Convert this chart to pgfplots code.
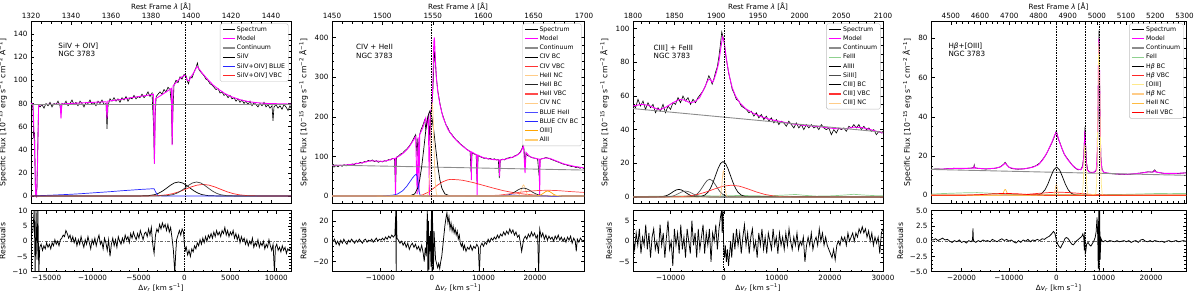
\documentclass[border=0pt]{standalone}
\usepackage{fontspec}
\setmainfont{DejaVu Sans}
\usepackage{pgfplots}
\pgfplotsset{compat=1.18}
\definecolor{mag}{HTML}{FF00FF}
\definecolor{peach}{HTML}{FFCC88}
\definecolor{orng}{HTML}{FFA500}
\definecolor{lgreen}{HTML}{8FD18F}
\definecolor{pyel}{HTML}{FFE98A}
\definecolor{cgray}{HTML}{8C8C8C}
\newcommand{\tk}{\fontsize{7.2}{8.2}\selectfont}
\newcommand{\yl}{\fontsize{7.7}{8.7}\selectfont}
\newcommand{\lgf}{\fontsize{6.2}{7.2}\selectfont}
\pgfplotsset{
 base/.style={scale only axis, tick align=inside, major tick length=3.5pt, minor tick length=2pt,
   tick style={black,line width=0.5pt}, axis line style={line width=0.7pt},
   tick label style={font=\tk}, label style={font=\tk}, ylabel style={font=\yl},
   xtick pos=both, ytick pos=both, scaled ticks=false, legend cell align=left,
   legend image code/.code={\draw[#1, line width=1.2pt] (0pt,0pt) -- (12.5pt,0pt);},
   legend style={font=\lgf, at={(0.99,0.99)}, anchor=north east, draw=black!25, rounded corners=1.5pt,
     inner xsep=2pt, inner ysep=1.5pt, row sep=0.4pt,
     nodes={inner sep=1.1pt, text height=5pt, text depth=1.6pt}}},
 mainax/.style={base, xticklabel pos=right, height=181.6pt,
   xlabel={Rest Frame \textit{λ} [Å]},
   xlabel style={at={(axis description cs:0.5,1)}, anchor=center, yshift=15pt},
   ylabel={Specific Flux [10\textsuperscript{−15} erg s\textsuperscript{−1} cm\textsuperscript{−2} Å\textsuperscript{−1}]}},
 resax/.style={base, xticklabel pos=left, height=61pt,
   xlabel={Δ\textit{v}\textsubscript{\textit{r}} [km s\textsuperscript{−1}]},
   xlabel style={at={(axis description cs:0.5,0)}, anchor=center, yshift=-15.6pt},
   ylabel={Residuals}},
 spec/.style={black, line width=0.6pt},
 rspec/.style={black, line width=0.75pt},
 model/.style={mag, line width=0.9pt},
 cont/.style={cgray, line width=0.9pt},
 comp/.style={line width=0.7pt},
 vl/.style={black, line width=0.6pt, dash pattern=on 1.6pt off 1pt, forget plot},
 zl/.style={black!60, line width=0.5pt, dash pattern=on 3pt off 1.5pt on 0.8pt off 1.5pt, forget plot},
}
\begin{document}
\begin{tikzpicture}
\useasboundingbox (0,0) rectangle (1200pt,296pt);
%================ PANEL 1 =================
\begin{axis}[mainax, at={(31pt,92.7pt)}, anchor=south west, width=260pt,
 xmin=1320, xmax=1450, ymin=-6.3, ymax=150.7,
 xtick={1320,1340,...,1440}, xticklabels={1320,1340,1360,1380,1400,1420,1440},
 ytick={0,20,...,140}, yticklabels={0,20,40,60,80,100,120,140},
 minor x tick num=3, minor y tick num=3]
\addplot[spec] coordinates {(1320,82)(1320.5,79)(1321,76)(1321.3,50)(1321.8,55)(1322.2,3)(1322.6,0)(1323,8)(1323.4,45)(1323.8,78)(1324.5,77)(1325.5,79)(1326.5,76)(1327.5,80)(1328.5,78)(1329.5,81)(1330.5,77)(1331.5,80)(1332.5,79)(1333.5,82)(1334.5,78)(1335,72)(1335.5,80)(1336.5,79)(1337.5,82)(1338.5,78)(1339.5,80)(1340.5,83)(1341.5,79)(1342.5,81)(1343.5,78)(1344.5,82)(1345.5,80)(1346.5,77)(1347.5,81)(1348.5,80)(1349.5,83)(1350.5,79)(1351.5,81)(1352.5,78)(1353.5,82)(1354.5,80)(1355.5,83)(1356.5,79)(1357.5,80)(1358,58)(1358.5,78)(1359.5,84)(1360.5,82)(1361.5,85)(1362.5,82)(1363.5,84)(1364.5,81)(1365.5,85)(1366.5,83)(1367.5,86)(1368.5,82)(1369.5,85)(1370.5,84)(1371.5,87)(1372.5,84)(1373.5,86)(1374.5,85)(1375.5,88)(1376.5,85)(1377.5,87)(1378.5,90)(1379.5,86)(1380.5,89)(1381.3,60)(1381.7,28)(1382.1,70)(1382.6,86)(1383.5,88)(1384.5,90)(1385.5,88)(1386.5,92)(1387.5,90)(1388.5,94)(1389.5,92)(1390.2,80)(1390.6,45)(1391,75)(1391.5,96)(1392.5,100)(1393.5,98)(1394.5,103)(1395.5,101)(1396.5,105)(1397.5,104)(1398.2,99)(1398.8,97)(1399.5,103)(1400.5,102)(1401.5,107)(1402.5,111)(1403.2,115)(1403.8,110)(1404.5,108)(1405.5,106)(1406.5,104)(1407.5,101)(1408.5,100)(1409.5,97)(1410.5,96)(1411.5,94)(1412.5,92)(1413.5,93)(1414.5,89)(1415.5,90)(1416.5,87)(1417.5,88)(1418.5,85)(1419.5,87)(1420.5,84)(1421.5,85)(1422.5,82)(1423.5,84)(1424.5,81)(1425.5,83)(1426.5,80)(1427.5,82)(1428.5,79)(1429.5,82)(1430.5,78)(1431.5,81)(1432.5,79)(1433.5,77)(1434.5,80)(1435.5,78)(1436.5,81)(1437.5,77)(1438.5,79)(1439.5,76)(1440.5,78)(1441,65)(1441.5,77)(1442.5,79)(1443.5,76)(1444.5,78)(1445.5,75)(1446.5,79)(1447.5,77)(1448.5,74)(1449.5,78)(1450,76)};
\addlegendentry{Spectrum}
\addplot[model] coordinates {(1320,80)(1321,79.5)(1321.8,40)(1322.3,2)(1322.8,0)(1323.3,30)(1323.8,78)(1325,79)(1334.6,79.5)(1335,67)(1335.4,79.6)(1345,80.5)(1357.6,81.5)(1358,67)(1358.4,82)(1365,83.5)(1372,85.5)(1378,87)(1381.2,88)(1381.7,28)(1382.2,84)(1385,87)(1388,90.5)(1390.2,93)(1390.6,44)(1391,95)(1393,99)(1395,102.5)(1397,104.5)(1398.3,100)(1399,99.5)(1400,103)(1401.5,107)(1403,112)(1404,110)(1405.5,106.5)(1408,101.5)(1411,96)(1414,92)(1417,88.5)(1420,86)(1424,83.5)(1428,81.8)(1432,80.8)(1438,80)(1450,79.5)};
\addlegendentry{Model}
\addplot[cont] coordinates {(1320,79.5)(1450,79.5)};
\addlegendentry{Continuum}
\addplot[comp, black] coordinates {(1320,0)(1373.7,0.02)(1378.7,0.29)(1381.7,1.12)(1383.7,2.32)(1385.7,4.2)(1387.7,6.67)(1389.7,9.29)(1391.7,11.33)(1393.7,12.1)(1395.7,11.33)(1397.7,9.29)(1399.7,6.67)(1401.7,4.2)(1403.7,2.32)(1405.7,1.12)(1408.7,0.29)(1413.7,0.02)(1450,0)};
\addlegendentry{SiIV}
\addplot[comp, blue!85] coordinates {(1320,0)(1324,0.3)(1330,0.7)(1335,1.1)(1340,1.5)(1345,2)(1350,2.6)(1355,3.2)(1360,3.8)(1365,4.5)(1370,5.1)(1375,5.7)(1380,6.2)(1381.5,6.3)(1382.5,3)(1383.5,0.3)(1386,0)(1450,0)};
\addlegendentry{SiIV+OIV] BLUE}
\addplot[comp, red!85] coordinates {(1320,0)(1378,0.04)(1384,0.35)(1388,1.06)(1391,2.11)(1394,3.69)(1397,5.71)(1400,7.79)(1403,9.4)(1406,10)(1409,9.4)(1412,7.79)(1415,5.71)(1418,3.69)(1421,2.11)(1424,1.06)(1428,0.35)(1434,0.04)(1450,0)};
\addlegendentry{SiIV+OIV] VBC}
\addplot[comp, black!75, forget plot] coordinates {(1320,0)(1382.8,0.02)(1387.8,0.29)(1390.8,1.12)(1392.8,2.32)(1394.8,4.2)(1396.8,6.67)(1398.8,9.29)(1400.8,11.33)(1402.8,12.1)(1404.8,11.33)(1406.8,9.29)(1408.8,6.67)(1410.8,4.2)(1412.8,2.32)(1414.8,1.12)(1417.8,0.29)(1422.8,0.02)(1450,0)};
\addplot[vl] coordinates {(1397,-10)(1397,160)};
\node[font=\tk, align=left, anchor=north west, inner sep=0pt] at (axis description cs:0.105,0.885) {SiIV + OIV]\\NGC 3783};
\end{axis}
\begin{axis}[resax, at={(31pt,24.3pt)}, anchor=south west, width=260pt,
 xmin=-16700, xmax=11600, ymin=-10, ymax=10,
 xtick={-15000,-10000,...,10000}, xticklabels={−15000,−10000,−5000,0,5000,10000},
 ytick={-10,-5,...,10}, yticklabels={−10,−5,0,5,10},
 minor x tick num=4, minor y tick num=4]
\addplot[zl] coordinates {(-16700,0)(11600,0)};
\addplot[rspec] coordinates {(-16500,3)(-16350,10.5)(-16250,-10.5)(-16150,10.5)(-16050,-6)(-15950,10.5)(-15850,-10.5)(-15750,-2)(-15600,-1)(-15450,-3)(-15300,-1.5)(-15150,-2.5)(-15000,-0.5)(-14850,-2)(-14700,-1)(-14550,-2.5)(-14400,-0.5)(-14250,-1.5)(-14100,0.5)(-13950,-1)(-13800,0)(-13650,-1.5)(-13500,0.5)(-13350,1)(-13200,2)(-13050,1.5)(-12900,3.5)(-12750,2.5)(-12600,1)(-12450,2)(-12300,0)(-12150,1.5)(-12000,-0.5)(-11850,1)(-11700,-1.5)(-11550,0.5)(-11400,-1)(-11250,1.5)(-11100,-0.5)(-10950,-2)(-10800,0.5)(-10650,-1)(-10500,1.5)(-10350,-0.5)(-10200,-2.5)(-10050,0.5)(-9900,-1)(-9750,1)(-9600,-1.5)(-9450,0.5)(-9300,2)(-9150,-1)(-9000,0)(-8850,-2.5)(-8700,1)(-8550,-0.5)(-8400,-3)(-8250,0.5)(-8100,-5)(-7950,-1)(-7800,1)(-7650,-1.5)(-7500,0.5)(-7350,-2)(-7200,1.5)(-7050,0)(-6900,-1)(-6750,1)(-6600,-0.5)(-6450,2)(-6300,0.5)(-6150,1.5)(-6000,-0.5)(-5850,2.5)(-5700,1)(-5550,3)(-5400,1.5)(-5250,0.5)(-5100,2.5)(-4950,1)(-4800,3.5)(-4650,2)(-4500,0.5)(-4350,2.5)(-4200,3)(-4050,1.5)(-3900,4)(-3750,2)(-3600,4.5)(-3450,-1)(-3300,-4)(-3150,2)(-3000,4)(-2850,3)(-2700,5.5)(-2550,4)(-2400,6)(-2250,4.5)(-2100,5.5)(-1950,3.5)(-1800,5.5)(-1650,3)(-1500,4.5)(-1350,1)(-1200,-3)(-1050,-10.5)(-950,-4)(-850,0.5)(-700,2)(-550,3.5)(-400,2)(-250,4)(-100,3)(0,-1)(100,-3)(200,-2)(350,-4.5)(500,-3)(650,-5)(800,-2.5)(950,-3.5)(1100,-1.5)(1250,-2.5)(1400,-0.5)(1550,-1.5)(1700,0.5)(1850,-1)(2000,1)(2150,-0.5)(2300,1.5)(2450,0)(2600,2)(2750,1)(2900,2.5)(3050,1)(3200,3)(3350,1.5)(3500,3.5)(3650,2)(3800,3)(3950,1.5)(4100,3.5)(4250,2.5)(4400,4.5)(4550,2)(4700,3.5)(4850,1.5)(5000,3)(5150,2)(5300,3.5)(5450,1)(5600,2.5)(5750,0.5)(5900,2)(6050,-0.5)(6200,1.5)(6350,0)(6500,1)(6650,-1)(6800,0.5)(6950,-1.5)(7100,0)(7250,-1)(7400,1)(7550,-2)(7700,-0.5)(7850,-1.5)(8000,0.5)(8150,-2)(8300,-0.5)(8450,-1.5)(8600,0)(8750,-2.5)(8900,-1)(9050,-2)(9200,0.5)(9350,-1.5)(9500,-3)(9650,-1)(9800,-10.5)(9900,-2)(10050,-1)(10200,-3)(10350,-2)(10500,-3.5)(10650,-1.5)(10800,-3)(10950,-2)(11100,-4)(11250,-2.5)(11370,-3)(11600,-2)};
\addplot[vl] coordinates {(0,-12)(0,12)};
\end{axis}
%================ PANEL 2 =================
\begin{axis}[mainax, at={(332pt,92.7pt)}, anchor=south west, width=252pt,
 xmin=1450, xmax=1700, ymin=-18.4, ymax=440,
 xtick={1450,1500,...,1700}, xticklabels={1450,1500,1550,1600,1650,1700},
 ytick={0,100,...,400}, yticklabels={0,100,200,300,400},
 minor x tick num=4, minor y tick num=4]
\addplot[spec] coordinates {(1450,76)(1452,73)(1454,77)(1456,74)(1458,78)(1460,75)(1462,79)(1464,76)(1466,80)(1468,77)(1470,81)(1472,79)(1474,83)(1476,82)(1478,85)(1480,83)(1482,87)(1484,86)(1486,90)(1488,88)(1490,91)(1492,87)(1494,89)(1496,85)(1498,88)(1500,86)(1502,89)(1504,88)(1506,92)(1508,91)(1510,95)(1512,94)(1513,20)(1514,98)(1516,101)(1518,106)(1520,108)(1522,114)(1524,118)(1526,124)(1528,131)(1530,140)(1532,150)(1533,155)(1534.5,100)(1535,145)(1536,110)(1537,155)(1538,165)(1540,178)(1542,192)(1543,170)(1544,185)(1546,205)(1547,140)(1548,210)(1549,225)(1550,260)(1551,330)(1551.7,365)(1552.5,340)(1553.5,300)(1555,265)(1557,235)(1559,210)(1561,195)(1563,180)(1565,172)(1567,160)(1569,155)(1571,148)(1573,142)(1575,138)(1577,132)(1579,128)(1581,124)(1583,119)(1585,116)(1587,112)(1588,60)(1589,110)(1591,106)(1593,104)(1594,30)(1595,103)(1597,99)(1599,97)(1601,95)(1603,96)(1605,93)(1607,95)(1609,92)(1611,94)(1613,91)(1615,92)(1616,45)(1617,90)(1619,93)(1621,91)(1623,95)(1625,96)(1627,98)(1629,97)(1631,101)(1633,103)(1635,106)(1637,112)(1638.5,120)(1639.5,128)(1640.5,118)(1641.5,80)(1642.5,108)(1644,102)(1646,100)(1648,97)(1650,96)(1652,95)(1654,93)(1655.5,50)(1656.5,92)(1658,94)(1660,95)(1662,97)(1664,96)(1666,94)(1668,92)(1670,90)(1672,88)(1674,86)(1676,84)(1678,82)(1680,80)(1682,79)(1684,77)(1686,76)(1688,74)(1690,74)(1692,72)(1694,73)(1696,70)(1698,72)(1700,69)};
\addlegendentry{Spectrum}
\addplot[model] coordinates {(1450,77)(1460,77.5)(1470,80)(1480,84)(1488,89)(1495,88)(1500,87.5)(1505,89.5)(1510,94)(1512.5,95)(1513,1)(1513.5,96)(1518,103)(1522,111)(1526,122)(1530,138)(1533,150)(1534.5,5)(1535.5,148)(1536.3,10)(1537,155)(1540,172)(1542,190)(1543,197)(1544,180)(1545.5,200)(1546.7,0)(1547.5,210)(1549,225)(1550,280)(1551,390)(1551.6,400)(1552.3,360)(1553.5,300)(1555,262)(1557,232)(1560,200)(1565,168)(1570,150)(1575,136)(1580,125)(1585,115)(1587.8,112)(1588.2,40)(1588.6,111)(1593.5,104)(1594,0)(1594.5,103)(1600,97)(1605,94)(1610,92)(1615.8,91)(1616.3,50)(1616.8,91)(1622,93)(1628,97)(1633,102)(1637,110)(1640,126)(1641.5,58)(1642.5,110)(1646,100)(1650,96)(1655.5,93)(1656,0)(1656.5,93)(1662,96)(1666,95)(1672,89)(1680,81)(1690,75)(1700,71)};
\addlegendentry{Model}
\addplot[cont] coordinates {(1450,78)(1550,73)(1700,65.5)};
\addlegendentry{Continuum}
\addplot[comp, black] coordinates {(1450,0)(1527,0.3)(1532,5.2)(1535,19.8)(1537,40.9)(1539,74.3)(1541,118.1)(1543,164.4)(1545,200.3)(1547,214)(1549,200.3)(1551,164.4)(1553,118.1)(1555,74.3)(1557,40.9)(1559,19.8)(1562,5.2)(1567,0.3)(1700,0)};
\addlegendentry{CIV BC}
\addplot[comp, red!80] coordinates {(1450,0)(1535,0.5)(1540,3)(1545,9)(1550,18)(1555,28)(1560,36)(1565,41)(1568,42)(1575,41)(1580,39.5)(1590,34)(1600,27)(1610,20)(1620,13.5)(1630,8.5)(1640,5)(1650,2.6)(1660,1.2)(1670,0.5)(1680,0.2)(1700,0)};
\addlegendentry{CIV VBC}
\addplot[comp, peach] coordinates {(1450,0)(1632,0)(1634,0.3)(1636,3.8)(1637,9.1)(1638,17)(1639,24.7)(1640,28)(1641,24.7)(1642,17)(1643,9.1)(1644,3.8)(1646,0.3)(1648,0)(1700,0)};
\addlegendentry{HeII NC}
\addplot[comp, black!85] coordinates {(1450,0)(1614,0.05)(1620,0.6)(1625,2.7)(1628,5.6)(1631,9.7)(1634,14.5)(1637,18.5)(1640,20)(1643,18.5)(1646,14.5)(1649,9.7)(1652,5.6)(1655,2.7)(1660,0.6)(1666,0.05)(1700,0)};
\addlegendentry{HeII BC}
\addplot[comp, red!70] coordinates {(1450,0)(1600,0.5)(1615,2)(1625,5)(1635,9)(1645,12)(1655,14)(1665,14.5)(1675,13.5)(1685,11.5)(1700,9)};
\addlegendentry{HeII VBC}
\addplot[comp, peach] coordinates {(1450,0)(1543.5,0)(1544.5,0.9)(1545.5,6.7)(1546.5,31.8)(1547.5,96.6)(1548,143)(1548.5,188)(1549,222)(1549.5,235)(1550,222)(1550.5,188)(1551,143)(1551.5,96.6)(1552.5,31.8)(1553.5,6.7)(1554.5,0.9)(1555.5,0)(1700,0)};
\addlegendentry{CIV NC}
\addplot[comp, blue!70] coordinates {(1450,0)(1615,0)(1620,0.8)(1624,2.2)(1628,3)(1632,2.2)(1636,0.8)(1641,0)(1700,0)};
\addlegendentry{BLUE HeII}
\addplot[comp, blue!85] coordinates {(1450,0)(1500,0.3)(1510,2)(1515,5)(1520,13)(1524,24)(1527,35)(1530,46)(1532,52)(1533.5,55)(1534.5,50)(1535.5,30)(1536.5,10)(1537.5,1)(1540,0)(1700,0)};
\addlegendentry{BLUE CIV BC}
\addplot[comp, orng] coordinates {(1450,0)(1651,0)(1654,0.55)(1656,1.7)(1658,4.1)(1660,7.6)(1662,11.1)(1664,12.6)(1666,11.1)(1668,7.6)(1670,4.1)(1672,1.7)(1674,0.55)(1677,0)(1700,0)};
\addlegendentry{OIII]}
\addplot[comp, orng!55] coordinates {(1450,0)(1662,0)(1666,0.6)(1669,1.6)(1671,2)(1673,1.6)(1676,0.6)(1680,0)(1700,0)};
\addlegendentry{AlII}
\addplot[vl] coordinates {(1549,-30)(1549,450)};
\node[font=\tk, align=left, anchor=north west, inner sep=0pt] at (axis description cs:0.095,0.875) {CIV + HeII\\NGC 3783};
\end{axis}
\begin{axis}[resax, at={(332pt,24.3pt)}, anchor=south west, width=252pt,
 xmin=-19400, xmax=29500, ymin=-30, ymax=30,
 xtick={-10000,0,10000,20000}, xticklabels={−10000,0,10000,20000},
 ytick={-20,0,20}, yticklabels={−20,0,20},
 minor x tick num=4, minor y tick num=3]
\addplot[zl] coordinates {(-19400,0)(29500,0)};
\addplot[rspec] coordinates {(-19400,-1)(-18900,2)(-18600,-3)(-18300,0)(-18000,-4)(-17700,1)(-17400,-2)(-17100,2)(-16800,-1)(-16500,-3)(-16200,1)(-15900,-1)(-15600,2)(-15300,0)(-15000,-2)(-14700,1)(-14400,-1)(-14100,2)(-13800,0)(-13500,-2)(-13200,1)(-12900,2)(-12600,-1)(-12300,1)(-12000,0)(-11700,2)(-11400,-1)(-11100,1)(-10800,3)(-10500,0)(-10200,2)(-9900,1)(-9600,3)(-9300,1)(-9000,4)(-8700,2)(-8400,5)(-8100,3)(-7800,6)(-7500,4)(-7200,6)(-7000,31)(-6950,-31)(-6900,31)(-6800,3)(-6500,1)(-6200,-2)(-5900,0)(-5600,-4)(-5300,-1)(-5000,-6)(-4700,-2)(-4400,-8)(-4100,-4)(-3800,-2)(-3500,-6)(-3200,-3)(-2900,-8)(-2600,-5)(-2300,-10)(-2000,-4)(-1700,-12)(-1500,-20)(-1300,-6)(-1100,-15)(-900,31)(-800,-31)(-700,20)(-600,-28)(-500,5)(-400,-10)(-300,10)(-200,-25)(-100,31)(0,-31)(100,31)(200,-20)(300,-28)(400,10)(500,0)(700,-18)(900,-22)(1100,-26)(1300,-22)(1500,-27)(1700,-20)(1900,-15)(2100,-5)(2300,5)(2500,15)(2700,22)(2900,28)(3100,18)(3300,24)(3500,12)(3700,18)(3900,10)(4100,15)(4300,8)(4500,12)(4700,6)(4900,10)(5100,2)(5300,6)(5500,-2)(5700,-5)(5900,-2)(6100,-8)(6300,-4)(6600,-10)(6900,-6)(7200,-8)(7500,-4)(7800,-9)(8100,-5)(8400,-7)(8700,-3)(9000,-6)(9200,-31)(9400,-5)(9700,-2)(10000,-5)(10300,-1)(10600,-3)(10900,2)(11200,-1)(11500,3)(11800,1)(12100,4)(12400,2)(12700,6)(13000,3)(13300,7)(13600,5)(13900,9)(14200,6)(14500,10)(14800,7)(15100,12)(15400,8)(15700,11)(16000,6)(16300,9)(16600,4)(16900,6)(17200,-3)(17400,-10)(17600,-4)(17800,2)(18100,5)(18400,2)(18700,7)(19000,4)(19300,9)(19600,5)(19900,8)(20200,3)(20500,6)(20700,-31)(20900,12)(21200,4)(21500,8)(21800,2)(22100,6)(22400,1)(22700,5)(23000,2)(23300,4)(23600,0)(23900,5)(24200,2)(24500,6)(24800,1)(25100,4)(25400,0)(25700,3)(26000,-1)(26300,4)(26600,1)(26900,5)(27200,-2)(27500,3)(27800,0)(28000,-10)(28200,2)(28500,-1)(28800,3)(29200,0)(29500,1)};
\addplot[vl] coordinates {(0,-35)(0,35)};
\end{axis}
%================ PANEL 3 =================
\begin{axis}[mainax, at={(633pt,92.7pt)}, anchor=south west, width=250pt,
 xmin=1800, xmax=2100, ymin=-3.75, ymax=104.1,
 xtick={1800,1850,...,2100}, xticklabels={1800,1850,1900,1950,2000,2050,2100},
 ytick={0,20,...,100}, yticklabels={0,20,40,60,80,100},
 minor x tick num=4, minor y tick num=3]
\addplot[spec] coordinates {(1800,55)(1803,53)(1806,58)(1809,54)(1812,57)(1815,52)(1818,56)(1821,53)(1824,55)(1827,50)(1830,53)(1833,51)(1836,55)(1839,50)(1842,54)(1845,52)(1848,56)(1851,55)(1854,59)(1857,56)(1860,60)(1863,57)(1866,59)(1869,55)(1872,58)(1875,56)(1878,59)(1881,61)(1884,63)(1887,66)(1889,69)(1891,72)(1893,70)(1895,67)(1897,70)(1899,74)(1901,77)(1903,83)(1905,91)(1906.5,98)(1908,95)(1909.5,92)(1911,85)(1913,79)(1915,73)(1917,69)(1919,64)(1921,62)(1924,58)(1927,57)(1930,54)(1933,53)(1936,52)(1939,50)(1942,51)(1945,48)(1948,50)(1951,47)(1954,49)(1957,46)(1960,48)(1963,45)(1966,47)(1969,44)(1972,46)(1975,43)(1978,45)(1981,44)(1984,42)(1987,45)(1990,43)(1993,41)(1996,44)(1999,41)(2002,43)(2005,40)(2008,43)(2011,41)(2014,43)(2017,41)(2020,42)(2023,40)(2026,43)(2029,41)(2032,40)(2035,41)(2038,37)(2041,40)(2044,38)(2047,41)(2050,40)(2053,41)(2056,39)(2059,42)(2062,41)(2065,43)(2068,41)(2071,43)(2074,40)(2077,42)(2080,40)(2083,41)(2086,39)(2089,40)(2092,37)(2095,39)(2098,38)(2100,39)};
\addlegendentry{Spectrum}
\addplot[model] coordinates {(1800,54)(1810,55)(1818,54.5)(1825,53)(1832,51.8)(1840,53.5)(1848,56)(1856,58)(1862,57.5)(1868,56)(1874,56.5)(1880,59)(1886,65)(1890,69.5)(1893,70)(1895,68)(1897,69.5)(1900,74)(1903,80)(1905.5,89)(1907.5,95)(1909,93)(1911,86)(1913,79)(1916,71)(1919,65)(1923,60)(1928,56)(1935,52.5)(1945,49.5)(1955,47.5)(1965,46)(1975,45)(1990,43.5)(2005,42.5)(2020,42)(2035,41)(2045,40.5)(2055,40.5)(2065,41.5)(2075,41.2)(2085,40)(2100,38)};
\addlegendentry{Model}
\addplot[cont] coordinates {(1800,52.5)(2100,38.5)};
\addlegendentry{Continuum}
\addplot[comp, lgreen] coordinates {(1800,0.3)(1850,0.5)(1880,0.8)(1900,0.6)(1930,0.9)(1960,0.6)(1985,1.2)(1995,1.5)(2005,1)(2020,0.5)(2040,0.7)(2055,1.2)(2065,1.6)(2075,1.2)(2090,0.8)(2100,0.7)};
\addlegendentry{FeIII}
\addplot[comp, black] coordinates {(1800,0)(1830,0.05)(1835,0.2)(1840,0.77)(1843,1.46)(1846,2.39)(1849,3.4)(1852,4.19)(1855,4.5)(1858,4.19)(1861,3.4)(1864,2.39)(1867,1.46)(1870,0.77)(1875,0.2)(1880,0.05)(2100,0)};
\addlegendentry{AlIII}
\addplot[comp, black!70] coordinates {(1800,0)(1867,0.08)(1872,0.46)(1877,1.8)(1880,3.4)(1883,5.6)(1886,7.9)(1889,9.8)(1892,10.5)(1895,9.8)(1898,7.9)(1901,5.6)(1904,3.4)(1907,1.8)(1912,0.46)(1917,0.08)(2100,0)};
\addlegendentry{SiIII]}
\addplot[comp, black] coordinates {(1800,0)(1881,0.2)(1886,1.1)(1890,2.8)(1893,5.2)(1896,8.6)(1899,12.7)(1902,16.8)(1905,19.9)(1908,21)(1911,19.9)(1914,16.8)(1917,12.7)(1920,8.6)(1923,5.2)(1926,2.8)(1930,1.1)(1935,0.2)(2100,0)};
\addlegendentry{CIII] BC}
\addplot[comp, red!80] coordinates {(1800,0)(1843,0.03)(1858,0.23)(1868,0.66)(1878,1.55)(1888,3)(1898,4.8)(1908,6.4)(1918,7)(1928,6.4)(1938,4.8)(1948,3)(1958,1.55)(1968,0.66)(1978,0.23)(1993,0.03)(2100,0)};
\addlegendentry{CIII] VBC}
\addplot[comp, peach] coordinates {(1800,0)(1903,0)(1903.5,0.06)(1904.5,0.44)(1905.5,2.1)(1906.5,6.4)(1907,9.4)(1907.5,12.4)(1908,14.7)(1908.5,15.5)(1909,14.7)(1909.5,12.4)(1910,9.4)(1910.5,6.4)(1911.5,2.1)(1912.5,0.44)(1913.5,0.06)(1914,0)(2100,0)};
\addlegendentry{CIII] NC}
\addplot[comp, black!60, forget plot] coordinates {(1800,0)(1838,0.04)(1843,0.15)(1848,0.6)(1851,1.14)(1854,1.86)(1857,2.64)(1860,3.26)(1863,3.5)(1866,3.26)(1869,2.64)(1872,1.86)(1875,1.14)(1878,0.6)(1883,0.15)(1888,0.04)(2100,0)};
\addplot[vl] coordinates {(1909,-10)(1909,110)};
\node[font=\tk, align=left, anchor=north west, inner sep=0pt] at (axis description cs:0.082,0.875) {CIII] + FeIII\\NGC 3783};
\end{axis}
\begin{axis}[resax, at={(633pt,24.3pt)}, anchor=south west, width=250pt,
 xmin=-17100, xmax=30010, ymin=-7.4, ymax=7.4,
 xtick={-10000,0,10000,20000,30000}, xticklabels={−10000,0,10000,20000,30000},
 ytick={-5,0,5}, yticklabels={−5,0,5},
 minor x tick num=4, minor y tick num=4]
\addplot[zl] coordinates {(-17100,0)(30010,0)};
\addplot[rspec] coordinates {(-17100,1)(-16800,-2)(-16500,2)(-16200,-1)(-15900,3)(-15600,-3)(-15300,1)(-15000,-1)(-14700,4)(-14400,-2)(-14100,2)(-13800,-4)(-13500,1)(-13200,3)(-12900,-2)(-12600,0)(-12300,-3)(-12000,4)(-11700,-1)(-11400,2)(-11100,-4)(-10800,1)(-10500,5)(-10200,-2)(-9900,0)(-9600,-6)(-9300,3)(-9000,-1)(-8700,2)(-8400,-3)(-8100,4)(-7800,-2)(-7500,1)(-7200,-4)(-6900,3)(-6600,0)(-6300,-3)(-6000,5)(-5700,-1)(-5400,2)(-5100,-4)(-4800,3)(-4500,-2)(-4200,1)(-3900,4)(-3600,-3)(-3300,2)(-3000,-1)(-2700,3)(-2400,-5)(-2100,2)(-1800,0)(-1500,4)(-1200,-2)(-900,3)(-600,6)(-400,7.5)(-300,2)(-150,7.5)(0,-2)(150,-4)(300,-1)(500,-5)(700,-2)(900,-6)(1100,-3)(1300,0)(1500,-4)(1800,2)(2100,-2)(2400,3)(2700,-1)(3000,2)(3300,-3)(3600,1)(3900,4)(4200,-1)(4500,2)(4800,-3)(5100,1)(5400,3)(5700,-2)(6000,0)(6300,-4)(6600,2)(6900,-1)(7200,3)(7500,-2)(7800,1)(8100,-3)(8400,2)(8700,0)(9000,-2)(9300,3)(9600,-1)(9900,1)(10200,-3)(10500,2)(10800,-1)(11100,1)(11400,-2)(11700,2)(12000,-1)(12300,3)(12600,0)(12900,-2)(13200,1)(13500,-1)(13800,2)(14100,-2)(14400,0)(14700,-1)(15000,1)(15300,-5)(15600,-1)(15900,1)(16200,-1)(16500,2)(16800,-2)(17100,0)(17400,1)(17700,-1)(18000,3)(18300,0)(18600,2)(18900,-1)(19200,1)(19500,-1)(19800,-2)(20100,-3)(20400,-4)(20700,-2)(21000,-4.5)(21300,-1)(21600,0)(21900,-1)(22200,1)(22500,0)(22800,1)(23100,-1)(23400,2)(23700,0)(24000,1)(24300,2)(24600,0)(24900,2)(25200,1)(25500,3)(25800,2)(26100,3.5)(26400,2)(26700,3)(27000,1)(27300,2.5)(27600,0)(27900,2)(28200,-1)(28500,1)(28800,-0.5)(29100,1)(29400,-3)(29700,2)(30010,3)};
\addplot[vl] coordinates {(0,-9)(0,9)};
\end{axis}
%================ PANEL 4 =================
\begin{axis}[mainax, at={(931pt,92.7pt)}, anchor=south west, width=255pt,
 xmin=4432, xmax=5305, ymin=-4.06, ymax=88.5,
 xtick={4500,4600,...,5300}, xticklabels={4500,4600,4700,4800,4900,5000,5100,5200,5300},
 ytick={0,20,...,80}, yticklabels={0,20,40,60,80},
 minor x tick num=4, minor y tick num=3]
\addplot[spec] coordinates {(4432,13.2)(4450,13.5)(4470,13.3)(4490,13.6)(4510,13.8)(4530,13.5)(4550,13.7)(4570,13.9)(4578,14.2)(4580,15.5)(4582,14)(4600,13.6)(4620,13.4)(4640,13.6)(4660,14)(4670,14.6)(4680,15.8)(4686,16.8)(4692,15.5)(4700,14.2)(4710,13.6)(4730,13.3)(4750,13.5)(4770,14)(4790,15)(4805,16.5)(4815,18.5)(4825,20.5)(4835,23.5)(4845,26.5)(4852,29)(4858,31.5)(4861,32.8)(4864,31)(4868,28.5)(4873,27)(4880,24)(4888,21)(4895,19.5)(4905,17.5)(4915,15.5)(4925,14)(4935,13)(4945,13.2)(4951,15)(4955,20)(4958,31)(4959.5,35)(4961,27)(4964,17)(4968,13)(4975,11.8)(4985,11.5)(4995,12.2)(5000,14)(5003,30)(5005,60)(5007,84)(5008.5,70)(5011,35)(5014,18)(5018,13)(5025,11.6)(5040,11.2)(5060,10.9)(5080,10.7)(5100,10.6)(5120,10.8)(5140,11.2)(5160,11.6)(5175,12)(5190,11.8)(5198,13)(5202,12)(5215,11.5)(5235,11.1)(5255,10.9)(5275,11.1)(5290,11.3)(5305,11.5)};
\addlegendentry{Spectrum}
\addplot[model] coordinates {(4432,13.1)(4470,13.4)(4510,13.7)(4550,13.7)(4578,13.9)(4580,14.8)(4582,13.9)(4620,13.5)(4650,13.8)(4670,14.5)(4680,15.6)(4686,16.5)(4692,15.3)(4700,14.2)(4720,13.5)(4750,13.5)(4780,14.3)(4800,15.6)(4815,18.2)(4830,22)(4845,26.8)(4855,30.5)(4861,32.3)(4866,30)(4872,27.2)(4880,24)(4890,20.5)(4900,18.2)(4915,15.5)(4930,13.5)(4945,13)(4951,14.5)(4955,19.5)(4957.5,28)(4959,33)(4960.5,28)(4963,18)(4967,13)(4975,11.8)(4990,11.7)(4998,13)(5001,22)(5003.5,45)(5005.5,70)(5007,80)(5008.5,70)(5010.5,45)(5013,20)(5017,13)(5025,11.6)(5050,11.1)(5100,10.7)(5150,11.3)(5175,11.9)(5195,11.9)(5198,12.6)(5201,11.9)(5230,11.2)(5270,11.2)(5305,11.4)};
\addlegendentry{Model}
\addplot[cont] coordinates {(4432,13.2)(5305,10.2)};
\addlegendentry{Continuum}
\addplot[comp, lgreen] coordinates {(4432,0.6)(4470,0.9)(4510,1.1)(4550,1.3)(4590,1.4)(4620,1.2)(4650,0.9)(4680,0.6)(4720,0.4)(4760,0.3)(4800,0.35)(4850,0.4)(4900,0.45)(4950,0.35)(5000,0.3)(5050,0.4)(5100,0.5)(5150,0.7)(5200,0.9)(5250,1)(5305,0.9)};
\addlegendentry{FeII}
\addplot[comp, black] coordinates {(4432,0)(4787,0.04)(4802,0.35)(4812,1.1)(4822,2.75)(4832,5.7)(4842,9.5)(4852,13)(4862,14.4)(4872,13)(4882,9.5)(4892,5.7)(4902,2.75)(4912,1.1)(4922,0.35)(4937,0.04)(5305,0)};
\addlegendentry{H\textit{β} BC}
\addplot[comp, red!85] coordinates {(4432,0)(4700,0.04)(4750,0.37)(4800,1)(4840,1.45)(4870,1.6)(4900,1.45)(4940,1)(4990,0.37)(5040,0.04)(5305,0)};
\addlegendentry{H\textit{β} VBC}
\addplot[comp, pyel] coordinates {(4432,0)(4948,0.2)(4951,1.9)(4953,6)(4954.5,11.4)(4956,18)(4957.5,23.7)(4959,26)(4960.5,23.7)(4962,18)(4963.5,11.4)(4965,6)(4967,1.9)(4970,0.2)(4996,0.55)(4999,5.7)(5001,17.9)(5002.5,34.1)(5004,54.1)(5005.5,71.1)(5007,78)(5008.5,71.1)(5010,54.1)(5011.5,34.1)(5013,17.9)(5015,5.7)(5018,0.55)(5022,0)(5305,0)};
\addlegendentry{[OIII]}
\addplot[comp, peach] coordinates {(4432,0)(4850,0.04)(4853,0.4)(4855,1.27)(4856.5,2.4)(4858,3.8)(4859.5,5)(4861,5.5)(4862.5,5)(4864,3.8)(4865.5,2.4)(4867,1.27)(4869,0.4)(4872,0.04)(5305,0)};
\addlegendentry{H\textit{β} NC}
\addplot[comp, orng!75] coordinates {(4432,0)(4671,0.03)(4675,0.27)(4678,0.83)(4680,1.46)(4682,2.18)(4684,2.77)(4686,3)(4688,2.77)(4690,2.18)(4692,1.46)(4694,0.83)(4697,0.27)(4701,0.03)(5305,0)};
\addlegendentry{HeII NC}
\addplot[comp, red] coordinates {(4432,0)(4550,0.08)(4600,0.36)(4640,0.75)(4686,1)(4730,0.76)(4770,0.37)(4820,0.08)(5305,0)};
\addlegendentry{HeII VBC}
\addplot[vl] coordinates {(4861,-10)(4861,95)};
\addplot[vl] coordinates {(4959,-10)(4959,95)};
\addplot[vl] coordinates {(5007,-10)(5007,95)};
\node[font=\tk, align=left, anchor=north west, inner sep=0pt] at (axis description cs:0.068,0.885) {H\textit{β}+[OIII]\\NGC 3783};
\end{axis}
\begin{axis}[resax, at={(931pt,24.3pt)}, anchor=south west, width=255pt,
 xmin=-26460, xmax=27380, ymin=-5, ymax=5,
 xtick={-20000,-10000,0,10000,20000}, xticklabels={−20000,−10000,0,10000,20000},
 ytick={-5,-2.5,0,2.5,5}, yticklabels={−5.0,−2.5,0.0,2.5,5.0},
 minor x tick num=4, minor y tick num=3]
\addplot[zl] coordinates {(-26460,0)(27380,0)};
\addplot[rspec] coordinates {(-26460,0.3)(-26000,0.2)(-25500,0.4)(-25000,0.1)(-24500,0.3)(-24000,0.5)(-23500,0.2)(-23000,0.3)(-22500,0)(-22000,-0.2)(-21500,0.1)(-21000,-0.1)(-20500,0.2)(-20000,-0.2)(-19500,0)(-19000,-0.3)(-18500,0.1)(-18000,-0.1)(-17700,0.2)(-17600,2.1)(-17500,0.1)(-17000,-0.2)(-16500,0.1)(-16000,-0.1)(-15500,0.2)(-15000,0)(-14500,0.1)(-14000,-0.1)(-13500,0.3)(-13000,0.1)(-12500,-0.1)(-12000,0.2)(-11500,0.4)(-11000,0.1)(-10500,0.3)(-10000,0)(-9500,0.2)(-9000,-0.1)(-8500,-0.3)(-8000,0.1)(-7500,-0.2)(-7000,0.2)(-6500,0)(-6000,0.3)(-5500,-0.1)(-5000,0.2)(-4500,0.1)(-4000,0.3)(-3500,0.1)(-3000,0.4)(-2500,0.3)(-2000,0.6)(-1500,0.8)(-1000,1.2)(-600,1.6)(-300,1.3)(0,0.2)(300,-0.5)(600,-0.9)(900,-1.1)(1200,-0.6)(1500,-0.2)(1800,0.4)(2100,0.6)(2400,0.5)(2700,0.2)(3000,-0.2)(3300,-0.5)(3600,-0.6)(3900,-0.3)(4200,0)(4500,0.2)(4800,0.4)(5100,0.6)(5400,0.8)(5600,1.2)(5800,0.6)(5900,-1.5)(6000,1.5)(6100,-2)(6200,-1.8)(6400,-0.5)(6700,-0.2)(7000,-0.6)(7300,-0.8)(7600,-0.4)(7900,0)(8200,0.6)(8400,1.5)(8600,3.9)(8750,0.5)(8850,-4.5)(8950,5.2)(9050,-5.2)(9150,5.2)(9250,-3)(9400,0.5)(9600,0.1)(9900,-0.1)(10300,0.1)(10800,-0.1)(11300,0.1)(11800,0)(12300,-0.1)(12800,0.1)(13300,-0.1)(13800,0)(14300,0.1)(14800,-0.1)(15300,0.1)(15800,-0.2)(16300,0)(16800,0.1)(17300,-0.2)(17800,0.2)(18300,0.3)(18800,0)(19300,-0.1)(19800,0.1)(20300,-0.1)(20800,0.1)(21300,0)(21800,-0.1)(22300,0)(22800,-0.2)(23300,0)(23800,0.1)(24300,-0.1)(24800,0)(25300,0.1)(25800,-0.1)(26300,0)(26800,0.1)(27380,0)};
\addplot[vl] coordinates {(0,-6)(0,6)};
\addplot[vl] coordinates {(6044,-6)(6044,6)};
\addplot[vl] coordinates {(9004,-6)(9004,6)};
\end{axis}
\end{tikzpicture}
\end{document}
